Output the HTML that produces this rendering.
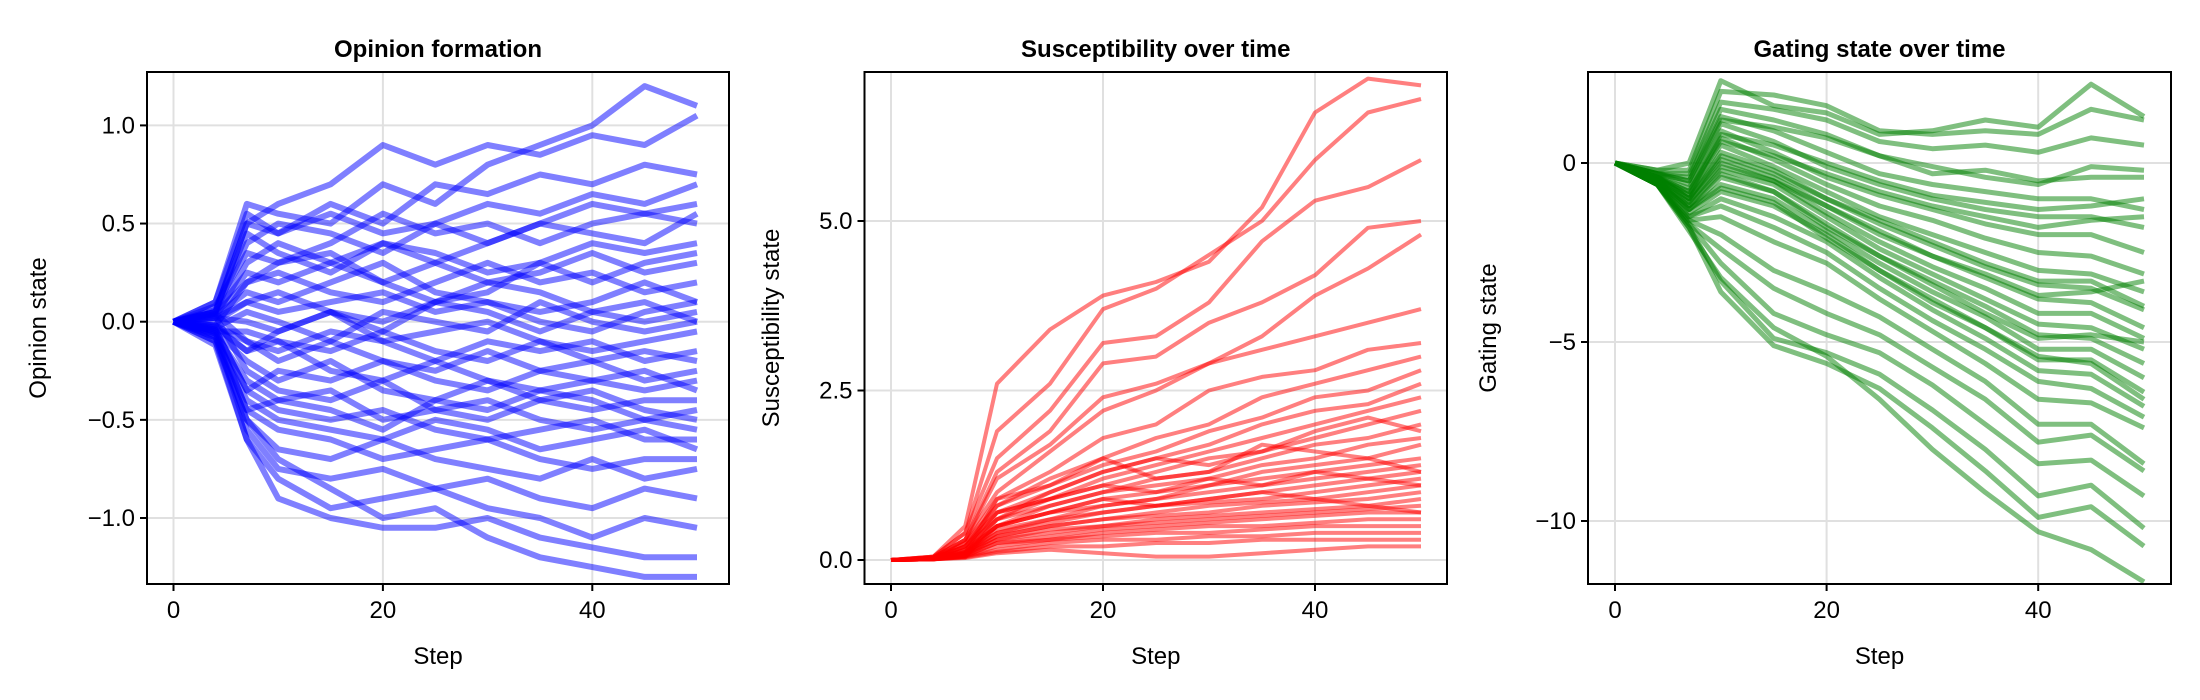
<!DOCTYPE html>
<html><head><meta charset="utf-8"><style>
html,body{margin:0;padding:0;background:#fff;}
svg{display:block;font-family:"Liberation Sans",Arial,sans-serif;}
</style></head><body>
<svg id="chart" width="2200" height="700" viewBox="0 0 2200 700"></svg>
<script>
const steps = [0,4,7,10,15,20,25,30,35,40,45,50];
const xTicks = [0,20,40];
const opinionTicks = [-1.0,-0.5,0.0,0.5,1.0];
const opinionTickLabels = ["\u22121.0","\u22120.5","0.0","0.5","1.0"];
const suscTicks = [0,2.5,5.0];
const suscTickLabels = ["0.0","2.5","5.0"];
const gatingTicks = [-10,-5,0];
const gatingTickLabels = ["\u221210","\u22125","0"];

const opinionSeries = [
[0,0.1,0.6,0.55,0.5,0.7,0.6,0.8,0.9,1.0,1.2,1.1],
[0,0.05,0.5,0.6,0.7,0.9,0.8,0.9,0.85,0.95,0.9,1.05],
[0,0.1,0.55,0.45,0.6,0.5,0.7,0.65,0.75,0.7,0.8,0.75],
[0,0.05,0.4,0.5,0.45,0.35,0.5,0.6,0.55,0.65,0.6,0.7],
[0,0.08,0.35,0.3,0.4,0.55,0.45,0.5,0.4,0.5,0.55,0.5],
[0,0.02,0.3,0.4,0.3,0.2,0.3,0.4,0.5,0.45,0.4,0.55],
[0,0.05,0.25,0.2,0.3,0.4,0.35,0.25,0.3,0.2,0.3,0.35],
[0,-0.02,0.2,0.25,0.15,0.1,0.2,0.3,0.2,0.25,0.15,0.2],
[0,0.03,0.15,0.1,0.2,0.3,0.15,0.1,0.05,0.1,0.2,0.1],
[0,0,0.1,0.15,0.05,0,0.1,0.2,0.15,0.05,0,0.05],
[0,-0.03,0.05,0,-0.1,0.05,0,-0.05,0.1,0,-0.05,0],
[0,0.02,0,-0.05,0.05,-0.1,-0.05,0,-0.1,-0.15,-0.1,-0.05],
[0,-0.05,-0.05,-0.1,-0.15,-0.05,-0.15,-0.2,-0.1,-0.2,-0.15,-0.2],
[0,0.04,-0.1,-0.2,-0.1,-0.2,-0.25,-0.15,-0.25,-0.2,-0.3,-0.25],
[0,-0.02,-0.15,-0.1,-0.25,-0.3,-0.2,-0.3,-0.35,-0.3,-0.25,-0.35],
[0,-0.05,-0.2,-0.3,-0.2,-0.35,-0.4,-0.3,-0.4,-0.45,-0.4,-0.4],
[0,0.03,-0.25,-0.35,-0.4,-0.3,-0.45,-0.5,-0.4,-0.35,-0.45,-0.5],
[0,-0.06,-0.3,-0.4,-0.35,-0.5,-0.45,-0.4,-0.5,-0.55,-0.5,-0.45],
[0,-0.04,-0.35,-0.45,-0.5,-0.45,-0.55,-0.6,-0.55,-0.5,-0.6,-0.6],
[0,-0.08,-0.4,-0.5,-0.55,-0.6,-0.5,-0.55,-0.65,-0.6,-0.55,-0.65],
[0,-0.05,-0.45,-0.55,-0.6,-0.7,-0.65,-0.6,-0.7,-0.75,-0.7,-0.7],
[0,-0.1,-0.5,-0.65,-0.7,-0.6,-0.7,-0.75,-0.8,-0.7,-0.8,-0.75],
[0,-0.07,-0.55,-0.75,-0.8,-0.75,-0.85,-0.8,-0.9,-0.95,-0.85,-0.9],
[0,-0.1,-0.6,-0.8,-0.95,-0.9,-0.85,-0.95,-1.0,-1.1,-1.0,-1.05],
[0,-0.12,-0.6,-0.9,-1.0,-1.05,-1.05,-1.0,-1.1,-1.15,-1.2,-1.2],
[0,-0.08,-0.5,-0.7,-0.85,-1.0,-0.95,-1.1,-1.2,-1.25,-1.3,-1.3],
[0,0.06,0.45,0.35,0.25,0.4,0.3,0.2,0.25,0.35,0.25,0.3],
[0,-0.03,-0.15,-0.05,0.05,-0.05,0.1,0.05,-0.05,0.05,0.1,0.0],
[0,0.04,0.2,0.3,0.35,0.2,0.1,0.15,0.3,0.4,0.35,0.4],
[0,-0.04,-0.35,-0.25,-0.3,-0.2,-0.3,-0.35,-0.25,-0.3,-0.35,-0.3],
[0,0.05,0.5,0.45,0.55,0.45,0.5,0.4,0.5,0.6,0.55,0.6],
[0,-0.06,-0.45,-0.4,-0.45,-0.55,-0.4,-0.45,-0.35,-0.4,-0.5,-0.55],
[0,0.02,0.1,0.05,0.1,0.15,0.05,0.1,0.0,-0.05,0.05,0.1],
[0,-0.02,-0.1,-0.15,-0.05,-0.1,-0.2,-0.1,-0.15,-0.1,-0.2,-0.15]
];
const suscSeries = [
[0,0.05,0.5,2.6,3.4,3.9,4.1,4.4,5.2,6.6,7.1,7.0],
[0,0.05,0.4,1.9,2.6,3.7,4.0,4.5,5.0,5.9,6.6,6.8],
[0,0.05,0.4,1.5,2.2,3.2,3.3,3.8,4.7,5.3,5.5,5.9],
[0,0.04,0.3,1.3,1.9,2.9,3.0,3.5,3.8,4.2,4.9,5.0],
[0,0.04,0.3,1.2,1.7,2.4,2.6,2.9,3.3,3.9,4.3,4.8],
[0,0.04,0.3,1.0,1.6,2.2,2.5,2.9,3.1,3.3,3.5,3.7],
[0,0.03,0.25,0.9,1.3,1.8,2.0,2.5,2.7,2.8,3.1,3.2],
[0,0.03,0.25,0.8,1.2,1.5,1.8,2.0,2.4,2.6,2.8,3.0],
[0,0.03,0.2,0.8,1.1,1.4,1.6,1.9,2.1,2.4,2.5,2.8],
[0,0.03,0.2,0.7,1.0,1.3,1.5,1.7,2.0,2.2,2.3,2.6],
[0,0.03,0.2,0.7,0.9,1.2,1.4,1.6,1.8,2.0,2.2,2.4],
[0,0.02,0.2,0.6,0.9,1.1,1.3,1.5,1.6,1.8,2.0,2.2],
[0,0.02,0.15,0.6,0.8,1.0,1.2,1.3,1.5,1.7,1.8,2.0],
[0,0.02,0.15,0.5,0.8,1.0,1.1,1.2,1.4,1.5,1.7,1.8],
[0,0.02,0.15,0.5,0.7,0.9,1.0,1.1,1.3,1.4,1.5,1.7],
[0,0.02,0.12,0.5,0.7,0.8,0.9,1.1,1.2,1.3,1.4,1.5],
[0,0.02,0.12,0.45,0.6,0.8,0.9,1.0,1.1,1.2,1.3,1.4],
[0,0.02,0.1,0.4,0.6,0.7,0.8,0.9,1.0,1.1,1.2,1.3],
[0,0.02,0.1,0.4,0.55,0.7,0.8,0.85,0.9,1.0,1.1,1.2],
[0,0.02,0.1,0.35,0.5,0.6,0.7,0.8,0.85,0.9,1.0,1.1],
[0,0.01,0.08,0.35,0.5,0.6,0.65,0.7,0.8,0.85,0.9,1.0],
[0,0.01,0.08,0.3,0.45,0.5,0.6,0.65,0.7,0.75,0.8,0.9],
[0,0.01,0.08,0.3,0.4,0.5,0.55,0.6,0.65,0.7,0.75,0.8],
[0,0.01,0.06,0.25,0.35,0.45,0.5,0.55,0.6,0.65,0.7,0.7],
[0,0.01,0.06,0.25,0.3,0.4,0.45,0.5,0.5,0.55,0.6,0.6],
[0,0.01,0.05,0.2,0.3,0.35,0.4,0.4,0.45,0.5,0.5,0.5],
[0,0.01,0.05,0.15,0.25,0.3,0.3,0.35,0.35,0.4,0.4,0.4],
[0,0.01,0.04,0.12,0.2,0.2,0.25,0.25,0.3,0.3,0.3,0.3],
[0,0.01,0.03,0.1,0.15,0.1,0.05,0.05,0.1,0.15,0.2,0.2],
[0,0.01,0.04,0.6,1.0,1.3,1.5,1.4,1.6,1.9,2.1,1.9],
[0,0.02,0.1,0.9,1.1,1.5,1.2,1.3,1.7,1.6,1.5,1.3],
[0,0.02,0.08,0.7,0.9,1.1,1.0,1.2,1.1,1.3,1.2,1.1],
[0,0.01,0.06,0.5,0.7,0.9,0.8,0.9,1.0,0.9,0.8,0.7]
];
const gatingSeries = [
[0,-0.2,0.0,2.3,1.6,1.4,0.8,0.9,1.2,1.0,2.2,1.3],
[0,-0.2,-0.2,2.0,1.9,1.6,0.9,0.8,0.9,0.8,1.5,1.2],
[0,-0.3,-0.3,1.7,1.5,1.2,0.6,0.4,0.5,0.3,0.7,0.5],
[0,-0.3,-0.4,1.5,1.2,0.8,0.2,-0.3,-0.2,-0.5,-0.4,-0.4],
[0,-0.3,-0.5,1.3,0.9,0.3,-0.3,-0.6,-0.8,-1.0,-1.0,-1.3],
[0,-0.3,-0.6,1.1,0.6,-0.1,-0.6,-1.0,-1.3,-1.5,-1.5,-1.8],
[0,-0.4,-0.7,0.9,0.3,-0.4,-0.9,-1.3,-1.7,-2.0,-2.0,-2.5],
[0,-0.4,-0.8,0.7,0.1,-0.6,-1.2,-1.6,-2.1,-2.5,-2.6,-3.1],
[0,-0.4,-0.9,0.5,-0.1,-0.8,-1.5,-2.0,-2.5,-3.0,-3.1,-3.6],
[0,-0.4,-1.0,0.3,-0.2,-1.0,-1.7,-2.3,-2.9,-3.4,-3.5,-4.1],
[0,-0.4,-1.0,0.1,-0.4,-1.2,-2.0,-2.6,-3.2,-3.8,-3.9,-4.6],
[0,-0.5,-1.1,0.0,-0.5,-1.4,-2.2,-2.9,-3.5,-4.2,-4.2,-4.9],
[0,-0.5,-1.2,-0.2,-0.6,-1.5,-2.4,-3.1,-3.8,-4.5,-4.6,-5.2],
[0,-0.5,-1.3,-0.4,-0.8,-1.7,-2.6,-3.3,-4.0,-4.8,-4.9,-5.6],
[0,-0.5,-1.3,-0.6,-1.0,-1.9,-2.8,-3.6,-4.3,-5.2,-5.2,-6.0],
[0,-0.5,-1.4,-0.8,-1.2,-2.0,-3.0,-3.8,-4.6,-5.5,-5.5,-6.4],
[0,-0.6,-1.5,-1.0,-1.5,-2.2,-3.2,-4.1,-4.9,-5.8,-5.9,-6.8],
[0,-0.6,-1.5,-1.2,-1.8,-2.5,-3.5,-4.4,-5.2,-6.1,-6.3,-7.1],
[0,-0.6,-1.6,-1.5,-2.2,-2.8,-3.8,-4.7,-5.6,-6.6,-6.7,-7.4],
[0,-0.6,-1.6,-2.0,-3.0,-3.6,-4.3,-5.2,-6.1,-7.3,-7.3,-8.4],
[0,-0.6,-1.7,-2.4,-3.5,-4.2,-4.8,-5.7,-6.6,-7.8,-7.6,-8.6],
[0,-0.6,-1.7,-2.8,-4.2,-4.8,-5.3,-6.2,-7.3,-8.4,-8.3,-9.3],
[0,-0.6,-1.8,-3.3,-4.9,-5.3,-5.9,-6.9,-8.0,-9.3,-9.0,-10.2],
[0,-0.6,-1.8,-3.6,-5.1,-5.6,-6.3,-7.4,-8.6,-9.9,-9.6,-10.7],
[0,-0.6,-1.9,-3.2,-4.6,-5.4,-6.6,-8.0,-9.2,-10.3,-10.8,-11.7],
[0,-0.3,-0.5,1.2,1.0,0.7,0.2,-0.1,-0.4,-0.6,-0.1,-0.2],
[0,-0.4,-0.8,0.6,0.2,-0.3,-0.8,-1.2,-1.5,-1.8,-1.6,-1.5],
[0,-0.4,-1.0,0.2,-0.3,-1.0,-1.6,-2.2,-2.8,-3.3,-3.3,-4.0],
[0,-0.5,-1.2,-0.3,-0.8,-1.8,-2.6,-3.4,-4.2,-4.9,-4.8,-5.0],
[0,-0.5,-1.3,-0.7,-1.1,-2.1,-3.0,-3.9,-4.6,-5.4,-5.6,-6.6],
[0,-0.4,-0.9,0.8,0.5,0.0,-0.5,-0.9,-1.1,-1.3,-1.2,-1.0],
[0,-0.5,-1.1,-0.1,-0.5,-1.2,-1.9,-2.6,-3.1,-3.7,-3.6,-3.3]
];

const NS = "http://www.w3.org/2000/svg";
const svgRoot = document.getElementById("chart");
function mk(tag, attrs, parent){ const e=document.createElementNS(NS,tag); for(const k in attrs) e.setAttribute(k,attrs[k]); (parent||svgRoot).appendChild(e); return e; }

const panels = [
 {key:"opinion", title:"Opinion formation", ylabel:"Opinion state", left:147, right:729, x0:173.5, x50:697, ypx0:321.7, ypx1:125.4, yv1:1.0, series:opinionSeries, ticks:opinionTicks, tickLabels:opinionTickLabels, color:"#0000ff", op:0.5, sw:6, ylabX:46},
 {key:"susceptibility", title:"Susceptibility over time", ylabel:"Susceptibility state", left:864.5, right:1447, x0:891, x50:1421, ypx0:560, ypx1:221, yv1:5.0, series:suscSeries, ticks:suscTicks, tickLabels:suscTickLabels, color:"#ff0000", op:0.5, sw:4, ylabX:779},
 {key:"gating", title:"Gating state over time", ylabel:"Gating state", left:1588, right:2171, x0:1615, x50:2144, ypx0:163, ypx1:342, yv1:-5, series:gatingSeries, ticks:gatingTicks, tickLabels:gatingTickLabels, color:"#008000", op:0.5, sw:5, ylabX:1496}
];
const plotTop=72, plotBottom=584;

panels.forEach(p=>{
  const g = mk("g",{});
  
  
  const xs = v => p.x0 + (p.x50-p.x0)*v/50;
  const ys = v => p.ypx0 + (p.ypx1-p.ypx0)*v/p.yv1;
  xTicks.forEach(t=>{ const l=mk("line",{x1:xs(t),x2:xs(t),y1:plotTop,y2:plotBottom,stroke:"#e0e0e0","stroke-width":2},g);
    
     });
  p.ticks.forEach(t=>{ const l=mk("line",{x1:p.left,x2:p.right,y1:ys(t),y2:ys(t),stroke:"#e0e0e0","stroke-width":2},g);
    
     });
  const clipId="clip-"+p.key;
  const cp=mk("clipPath",{id:clipId},g); mk("rect",{x:p.left,y:plotTop,width:p.right-p.left,height:plotBottom-plotTop},cp);
  const sg=mk("g",{"clip-path":"url(#"+clipId+")"},g);
  
  
  p.series.forEach((s,i)=>{
    const d = s.map((v,j)=>(j?"L":"M")+xs(steps[j]).toFixed(1)+","+ys(v).toFixed(1)).join(" ");
    const path=mk("path",{d:d,fill:"none",stroke:p.color,"stroke-opacity":p.op,"stroke-width":p.sw,"stroke-linejoin":"round"},sg);
    
    
  });
  const fr=mk("rect",{x:p.left,y:plotTop,width:p.right-p.left,height:plotBottom-plotTop,fill:"none",stroke:"#000","stroke-width":2},g);
  
  
  xTicks.forEach(t=>{
    mk("line",{x1:xs(t),x2:xs(t),y1:plotBottom,y2:plotBottom+7,stroke:"#000","stroke-width":2},g);
    const tx=mk("text",{x:xs(t),y:plotBottom+34,"text-anchor":"middle","font-size":24},g); tx.textContent=t;
    
    
  });
  p.ticks.forEach((t,i)=>{
    mk("line",{x1:p.left-7,x2:p.left,y1:ys(t),y2:ys(t),stroke:"#000","stroke-width":2},g);
    const tx=mk("text",{x:p.left-12,y:ys(t)+8,"text-anchor":"end","font-size":24},g); tx.textContent=p.tickLabels[i];
    
    
  });
  const ttl=mk("text",{x:(p.left+p.right)/2,y:57,"text-anchor":"middle","font-size":24,"font-weight":"bold"},g); ttl.textContent=p.title;
  
  
  const xl=mk("text",{x:(p.left+p.right)/2,y:664,"text-anchor":"middle","font-size":24},g); xl.textContent="Step";
  
  
  const cy=(plotTop+plotBottom)/2;
  const yl=mk("text",{x:p.ylabX,y:cy,"text-anchor":"middle","font-size":24,transform:"rotate(-90 "+p.ylabX+" "+cy+")"},g); yl.textContent=p.ylabel;
  
  
});
</script>
</body></html>
